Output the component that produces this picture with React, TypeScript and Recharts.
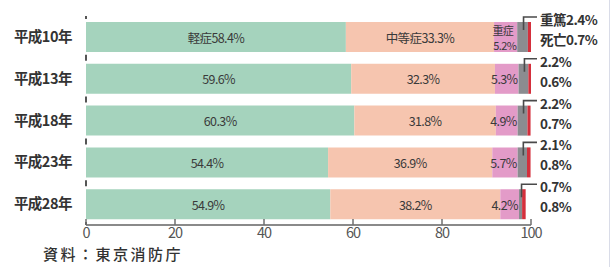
import React from "react";
import { Bar, BarChart, LabelList, XAxis, YAxis } from "recharts";

const years = ["平成10年", "平成13年", "平成18年", "平成23年", "平成28年"];
const mild = [58.4, 59.6, 60.3, 54.4, 54.9];
const moderate = [33.3, 32.3, 31.8, 36.9, 38.2];
const severe = [5.2, 5.3, 4.9, 5.7, 4.2];
const critical = [2.4, 2.2, 2.2, 2.1, 0.7];
const death = [0.7, 0.6, 0.7, 0.8, 0.8];
const xTicks = [0, 20, 40, 60, 80, 100];

const data = years.map((year, i) => ({
  year,
  mild: mild[i],
  moderate: moderate[i],
  severe: severe[i],
  critical: critical[i],
  death: death[i],
}));

const FONT = '"Noto Sans CJK JP", "Noto Sans", sans-serif';
const W = 612;
const H = 267;
const MARGIN = { top: 16, right: 81, bottom: 22, left: 0 };
const SIDE_X = W - MARGIN.right + 9;

const txt = {
  fontFamily: FONT,
  fontSize: 12.5,
  fill: "#3a3a3a",
  letterSpacing: -0.6,
};

const side = {
  fontFamily: FONT,
  fontSize: 13.5,
  fontWeight: 600,
  fill: "#333",
  letterSpacing: -0.5,
};

const fmt = (v: number) => `${v.toFixed(1)}%`;

const centerLabel = (prefix: string) => (p: any) => {
  const { x, y, width, height, value, index } = p;
  return (
    <text
      x={x + width / 2}
      y={y + height / 2}
      textAnchor="middle"
      dominantBaseline="central"
      {...txt}
    >
      {index === 0 ? prefix : ""}
      {fmt(value)}
    </text>
  );
};

const severeLabel = (p: any) => {
  const { x, y, width, height, value, index } = p;
  const right = x + width - 1;
  if (index === 0) {
    return (
      <g>
        <text x={right - 3} y={y + height / 2 - 7.5} textAnchor="end" dominantBaseline="central" {...txt} fontSize={11}>
          重症
        </text>
        <text x={right} y={y + height / 2 + 7.5} textAnchor="end" dominantBaseline="central" {...txt} fontSize={11}>
          {fmt(value)}
        </text>
      </g>
    );
  }
  return (
    <text x={right} y={y + height / 2} textAnchor="end" dominantBaseline="central" {...txt}>
      {fmt(value)}
    </text>
  );
};

const criticalLabel = (p: any) => {
  const { x, y, width, value, index } = p;
  const cx = x + width / 2 + 1;
  const top = y - 5;
  return (
    <g>
      <path
        d={`M${cx},${y + 8} L${cx},${top} L${SIDE_X - 3},${top}`}
        fill="none"
        stroke="#4a4a4a"
        strokeWidth={1.6}
      />
      <text x={SIDE_X} y={top + 2} dominantBaseline="central" {...side}>
        {index === 0 ? "重篤" : ""}
        {fmt(value)}
      </text>
    </g>
  );
};

const deathLabel = (p: any) => {
  const { y, value, index } = p;
  return (
    <text x={SIDE_X} y={y + 17} dominantBaseline="central" {...side}>
      {index === 0 ? "死亡" : ""}
      {fmt(value)}
    </text>
  );
};

const XTick = (p: any) => {
  const { x, y, payload } = p;
  return (
    <g>
      <line x1={x} x2={x} y1={y - 6} y2={y} stroke="#6f6f6f" strokeWidth={1.5} />
      <text
        x={x}
        y={y + 13}
        textAnchor="middle"
        fontFamily={FONT}
        fontSize={14.5}
        fill="#555"
        letterSpacing={-1}
      >
        {payload.value}
      </text>
    </g>
  );
};

export default function App() {
  return (
    <div
      style={{
        position: "absolute",
        left: 0,
        top: 0,
        width: W,
        height: H,
        background: "#fff",
        overflow: "hidden",
      }}
    >
      <BarChart
        width={W}
        height={H}
        data={data}
        layout="vertical"
        margin={MARGIN}
        barSize={30}
      >
        <XAxis
          type="number"
          domain={[0, 100]}
          ticks={xTicks}
          height={20}
          tickSize={0}
          tickMargin={0}
          tick={<XTick />}
          axisLine={{ stroke: "#8a8a8a", strokeWidth: 2 }}
          tickLine={false}
        />
        <YAxis
          type="category"
          dataKey="year"
          width={86}
          tickLine={false}
          tickMargin={8}
          axisLine={{
            stroke: "#555",
            strokeWidth: 2,
            strokeDasharray: "3 35.8 3 0",
          }}
          tick={{
            fontFamily: FONT,
            fontSize: 14.5,
            fontWeight: 700,
            fill: "#333",
            letterSpacing: -0.5,
          }}
        />
        <Bar dataKey="mild" stackId="a" fill="#a5d3bd" isAnimationActive={false}>
          <LabelList dataKey="mild" content={centerLabel("軽症")} />
        </Bar>
        <Bar dataKey="moderate" stackId="a" fill="#f6c5af" isAnimationActive={false}>
          <LabelList dataKey="moderate" content={centerLabel("中等症")} />
        </Bar>
        <Bar dataKey="severe" stackId="a" fill="#e39bc8" isAnimationActive={false}>
          <LabelList dataKey="severe" content={severeLabel} />
        </Bar>
        <Bar dataKey="critical" stackId="a" fill="#8b8c90" isAnimationActive={false}>
          <LabelList dataKey="critical" content={criticalLabel} />
        </Bar>
        <Bar dataKey="death" stackId="a" fill="#d42f3c" isAnimationActive={false}>
          <LabelList dataKey="death" content={deathLabel} />
        </Bar>
      </BarChart>
      <div
        style={{
          position: "absolute",
          left: 43,
          top: 244,
          fontFamily: FONT,
          fontSize: 15,
          lineHeight: "20px",
          color: "#333",
          letterSpacing: 2.5,
          fontWeight: 500,
        }}
      >
        資料：東京消防庁
      </div>
      <div
        style={{
          position: "absolute",
          left: 609,
          top: 0,
          width: 1,
          height: H,
          background: "#d9dce8",
        }}
      />
    </div>
  );
}
